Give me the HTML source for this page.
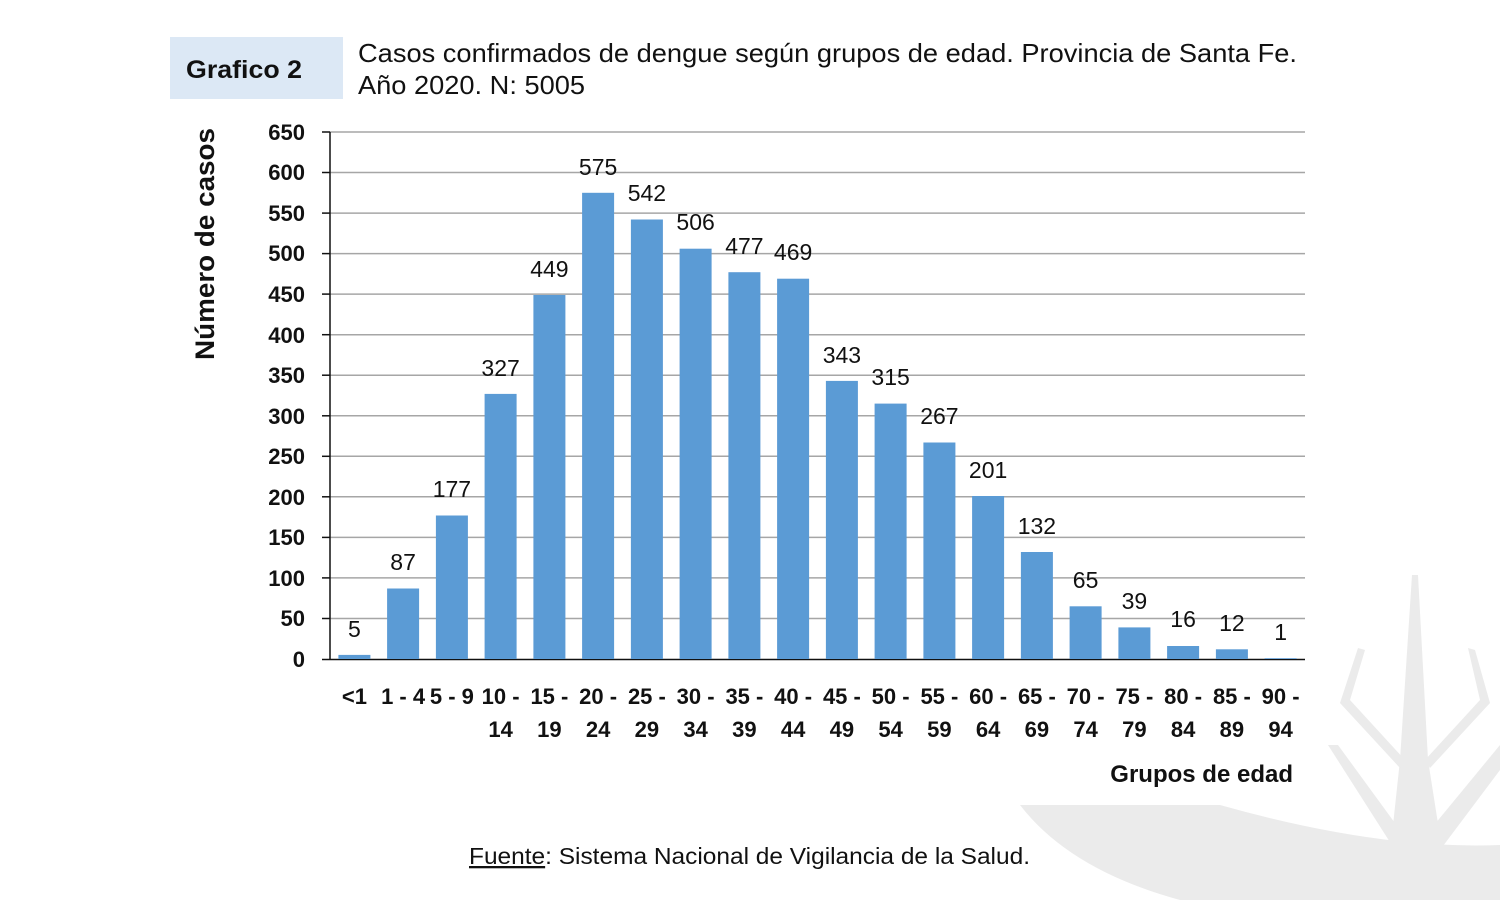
<!DOCTYPE html>
<html><head><meta charset="utf-8"><style>
html,body{margin:0;padding:0;background:#fff;}
svg{display:block;}
</style></head><body>
<svg width="1500" height="900" xmlns="http://www.w3.org/2000/svg" font-family="'Liberation Sans', sans-serif">
<g fill="#ebebeb">
<path d="M1020,805 L1220,805 Q1380,850 1500,845 L1500,900 L1180,900 Q1070,870 1020,805 Z"/>
<polygon points="1412,575 1418,575 1428,760 1450,900 1385,900 1400,760"/>
<polygon points="1328,745 1338,745 1400,830 1395,850"/>
<polygon points="1500,745 1500,770 1440,850 1430,830"/>
<polygon points="1358,648 1365,650 1350,700 1405,760 1400,768 1340,703"/>
<polygon points="1468,648 1475,650 1490,703 1430,768 1425,760 1480,700"/>
</g>
<rect x="170" y="37" width="173" height="62" fill="#dce8f5"/>
<text x="186" y="78" font-size="25" font-weight="bold" fill="#111" textLength="116" lengthAdjust="spacingAndGlyphs">Grafico 2</text>
<text x="358" y="62" font-size="26" fill="#111" textLength="939" lengthAdjust="spacingAndGlyphs">Casos confirmados de dengue según grupos de edad. Provincia de Santa Fe.</text>
<text x="358" y="94" font-size="26" fill="#111" textLength="227" lengthAdjust="spacingAndGlyphs">Año 2020. N: 5005</text>
<g stroke="#a6a6a6" stroke-width="1.5">
<line x1="330" x2="1305" y1="618.5" y2="618.5"/><line x1="330" x2="1305" y1="577.9" y2="577.9"/>
<line x1="330" x2="1305" y1="537.4" y2="537.4"/><line x1="330" x2="1305" y1="496.8" y2="496.8"/>
<line x1="330" x2="1305" y1="456.3" y2="456.3"/><line x1="330" x2="1305" y1="415.8" y2="415.8"/>
<line x1="330" x2="1305" y1="375.2" y2="375.2"/><line x1="330" x2="1305" y1="334.7" y2="334.7"/>
<line x1="330" x2="1305" y1="294.1" y2="294.1"/><line x1="330" x2="1305" y1="253.6" y2="253.6"/>
<line x1="330" x2="1305" y1="213.1" y2="213.1"/><line x1="330" x2="1305" y1="172.5" y2="172.5"/>
<line x1="330" x2="1305" y1="132" y2="132"/>
</g>
<g stroke="#111" stroke-width="1.5">
<line x1="330" x2="330" y1="132" y2="659"/>
<line x1="322" x2="1305" y1="659.5" y2="659.5"/>
<line x1="322" x2="330" y1="618.5" y2="618.5"/><line x1="322" x2="330" y1="577.9" y2="577.9"/>
<line x1="322" x2="330" y1="537.4" y2="537.4"/><line x1="322" x2="330" y1="496.8" y2="496.8"/>
<line x1="322" x2="330" y1="456.3" y2="456.3"/><line x1="322" x2="330" y1="415.8" y2="415.8"/>
<line x1="322" x2="330" y1="375.2" y2="375.2"/><line x1="322" x2="330" y1="334.7" y2="334.7"/>
<line x1="322" x2="330" y1="294.1" y2="294.1"/><line x1="322" x2="330" y1="253.6" y2="253.6"/>
<line x1="322" x2="330" y1="213.1" y2="213.1"/><line x1="322" x2="330" y1="172.5" y2="172.5"/>
<line x1="322" x2="330" y1="132" y2="132"/>
</g>
<g font-size="22" font-weight="bold" fill="#111" text-anchor="end">
<text x="305" y="667">0</text><text x="305" y="626">50</text><text x="305" y="586">100</text>
<text x="305" y="545">150</text><text x="305" y="505">200</text><text x="305" y="464">250</text>
<text x="305" y="424">300</text><text x="305" y="383">350</text><text x="305" y="343">400</text>
<text x="305" y="302">450</text><text x="305" y="261">500</text><text x="305" y="221">550</text>
<text x="305" y="180">600</text><text x="305" y="140">650</text>
</g>
<text transform="translate(214,244) rotate(-90)" font-size="27" font-weight="bold" fill="#111" text-anchor="middle" textLength="232" lengthAdjust="spacingAndGlyphs">Número de casos</text>
<g fill="#5b9bd5">
<rect x="338.4" y="654.9" width="32" height="4.1"/>
<rect x="387.1" y="588.5" width="32" height="70.5"/>
<rect x="435.9" y="515.5" width="32" height="143.5"/>
<rect x="484.6" y="393.9" width="32" height="265.1"/>
<rect x="533.4" y="295.0" width="32" height="364"/>
<rect x="582.1" y="192.8" width="32" height="466.2"/>
<rect x="630.9" y="219.5" width="32" height="439.5"/>
<rect x="679.6" y="248.7" width="32" height="410.3"/>
<rect x="728.4" y="272.2" width="32" height="386.8"/>
<rect x="777.1" y="278.7" width="32" height="380.3"/>
<rect x="825.9" y="380.9" width="32" height="278.1"/>
<rect x="874.6" y="403.6" width="32" height="255.4"/>
<rect x="923.4" y="442.5" width="32" height="216.5"/>
<rect x="972.1" y="496.0" width="32" height="163"/>
<rect x="1020.9" y="552.0" width="32" height="107"/>
<rect x="1069.6" y="606.3" width="32" height="52.7"/>
<rect x="1118.4" y="627.4" width="32" height="31.6"/>
<rect x="1167.1" y="646.0" width="32" height="13"/>
<rect x="1215.9" y="649.3" width="32" height="9.7"/>
<rect x="1264.6" y="658.2" width="32" height="0.8"/>
</g>
<g font-size="23" fill="#111" text-anchor="middle">
<text x="354.4" y="637">5</text>
<text x="403.1" y="570">87</text>
<text x="451.9" y="497">177</text>
<text x="500.6" y="376">327</text>
<text x="549.4" y="277">449</text>
<text x="598.1" y="175">575</text>
<text x="646.9" y="201">542</text>
<text x="695.6" y="230">506</text>
<text x="744.4" y="254">477</text>
<text x="793.1" y="260">469</text>
<text x="841.9" y="363">343</text>
<text x="890.6" y="385">315</text>
<text x="939.4" y="424">267</text>
<text x="988.1" y="478">201</text>
<text x="1036.9" y="534">132</text>
<text x="1085.6" y="588">65</text>
<text x="1134.4" y="609">39</text>
<text x="1183.1" y="627">16</text>
<text x="1231.9" y="631">12</text>
<text x="1280.6" y="640">1</text>
</g>
<g font-size="22" font-weight="bold" fill="#111" text-anchor="middle">
<text x="354.4" y="704">&lt;1</text>
<text x="403.1" y="704">1 - 4</text>
<text x="451.9" y="704">5 - 9</text>
<text x="500.6" y="704">10 -</text><text x="500.6" y="737">14</text>
<text x="549.4" y="704">15 -</text><text x="549.4" y="737">19</text>
<text x="598.1" y="704">20 -</text><text x="598.1" y="737">24</text>
<text x="646.9" y="704">25 -</text><text x="646.9" y="737">29</text>
<text x="695.6" y="704">30 -</text><text x="695.6" y="737">34</text>
<text x="744.4" y="704">35 -</text><text x="744.4" y="737">39</text>
<text x="793.1" y="704">40 -</text><text x="793.1" y="737">44</text>
<text x="841.9" y="704">45 -</text><text x="841.9" y="737">49</text>
<text x="890.6" y="704">50 -</text><text x="890.6" y="737">54</text>
<text x="939.4" y="704">55 -</text><text x="939.4" y="737">59</text>
<text x="988.1" y="704">60 -</text><text x="988.1" y="737">64</text>
<text x="1036.9" y="704">65 -</text><text x="1036.9" y="737">69</text>
<text x="1085.6" y="704">70 -</text><text x="1085.6" y="737">74</text>
<text x="1134.4" y="704">75 -</text><text x="1134.4" y="737">79</text>
<text x="1183.1" y="704">80 -</text><text x="1183.1" y="737">84</text>
<text x="1231.9" y="704">85 -</text><text x="1231.9" y="737">89</text>
<text x="1280.6" y="704">90 -</text><text x="1280.6" y="737">94</text>
</g>
<text x="1293" y="782" font-size="24" font-weight="bold" fill="#111" text-anchor="end">Grupos de edad</text>
<text x="469" y="864" font-size="23" fill="#111" textLength="561" lengthAdjust="spacingAndGlyphs"><tspan text-decoration="underline">Fuente</tspan>: Sistema Nacional de Vigilancia de la Salud.</text>
</svg>
</body></html>
